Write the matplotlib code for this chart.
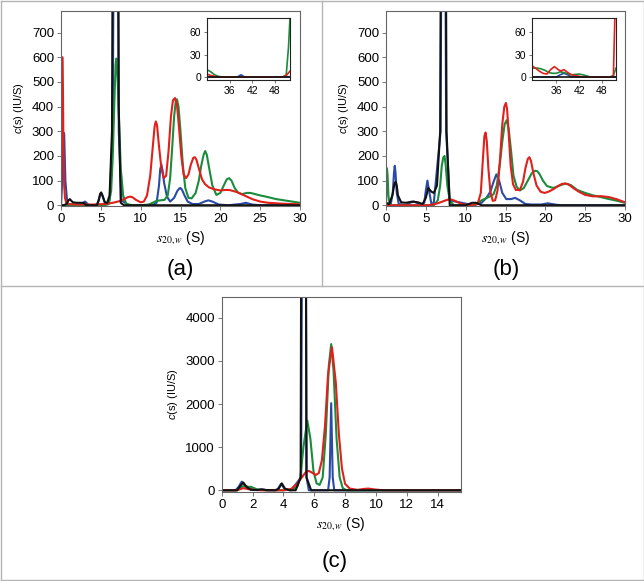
import matplotlib
matplotlib.use("Agg")
import matplotlib.pyplot as plt
from matplotlib.lines import Line2D

plt.rcParams['font.family'] = ['Liberation Sans', 'DejaVu Sans']
plt.rcParams['mathtext.fontset'] = 'custom'
plt.rcParams['mathtext.it'] = 'Liberation Sans:italic'
plt.rcParams['mathtext.rm'] = 'Liberation Sans'

RED, GREEN, BLUE, BLACK = '#e0201b', '#1a8c3c', '#2b4aa6', '#111111'

# ---- panel (a) ----
a_red_x = [0, 0.05, 0.1, 0.2, 0.25, 0.3, 0.4, 0.5, 0.7, 2, 4, 5.5, 6.5, 7.5, 8.0, 8.4, 8.7, 9.0, 9.4,
           10, 10.4, 10.8, 11.2, 11.5, 11.75, 11.9, 12.05, 12.3, 12.6, 12.9, 13.2, 13.5, 13.8, 14.05,
           14.3, 14.55, 14.8, 15.1, 15.4, 15.7, 16.0, 16.3, 16.6, 16.8, 17.0, 17.3, 17.7, 18.1, 18.6,
           19.2, 20, 20.6, 21.1, 21.6, 22.2, 23, 24, 25, 26, 27, 28, 29, 30]
a_red_y = [0, 300, 600, 600, 450, 250, 80, 30, 5, 3, 3, 5, 10, 18, 26, 33, 35, 32, 22,
           12, 15, 40, 120, 230, 320, 340, 325, 240, 150, 110, 120, 220, 360, 425,
           435, 410, 320, 200, 125, 110, 125, 165, 192, 195, 185, 150, 105, 85, 72,
           65, 60, 62, 62, 58, 52, 40, 25, 15, 10, 8, 6, 5, 4]
a_green_x = [0, 5.5, 6.0, 6.3, 6.5, 6.7, 6.85, 6.95, 7.1, 7.3, 7.5, 7.8, 8.2, 9, 10, 11, 11.5, 12, 12.5, 13,
             13.4, 13.7, 13.95, 14.2, 14.4, 14.55, 14.75, 15.0, 15.3, 15.6, 16.0, 16.4, 16.9, 17.3, 17.6,
             17.9, 18.1, 18.3, 18.6, 19.0, 19.5, 20.0, 20.5, 20.8, 21.1, 21.4, 21.8, 22.2, 22.7, 23.3,
             23.8, 25, 26, 27, 28, 29, 30]
a_green_y = [0, 0, 5, 60, 200, 420, 570, 595, 520, 330, 150, 40, 5, 0, 0, 3, 10, 18, 20, 22,
             40, 110, 230, 360, 420, 430, 400, 300, 160, 70, 30, 28, 50, 100, 160,
             205, 220, 205, 150, 80, 42, 50, 85, 105, 110, 100, 70, 52, 45, 50,
             50, 40, 33, 25, 20, 15, 10]
a_blue_x = [0, 0.15, 0.3, 0.4, 0.55, 0.8, 2.5, 2.8, 3.0, 3.2, 3.5, 4.5, 4.8, 5.0, 5.2, 5.5, 5.8, 6.1, 6.5,
            6.85, 7.0, 7.25, 7.6, 8.5, 11.5, 12.0, 12.3, 12.45, 12.6, 12.75, 12.95, 13.3, 13.7, 14.2,
            14.6, 14.85, 15.0, 15.2, 15.5, 15.9, 16.5, 17.3, 18.0, 18.5, 19.0, 19.8, 21, 22.5, 23.2,
            24, 25, 30]
a_blue_y = [0, 100, 295, 290, 100, 5, 0, 10, 15, 10, 0, 0, 30, 50, 40, 10, 5, 20, 300,
            3000, 3000, 300, 20, 0, 0, 10, 80, 145, 165, 140, 90, 35, 15, 30,
            58, 68, 70, 62, 40, 15, 5, 5, 15, 20, 15, 3, 0, 5, 10,
            3, 0, 0]
a_black_x = [0, 0.3, 0.7, 0.95, 1.1, 1.3, 1.5, 2.0, 2.8, 3.2, 4.5, 4.75, 4.9, 5.05, 5.2, 5.5, 5.8, 6.1,
             6.4, 6.8, 7.25, 7.5, 7.9, 30]
a_black_y = [0, 0, 5, 20, 25, 18, 12, 10, 10, 0, 0, 20, 45, 52, 40, 12, 10, 40,
             300, 4000, 400, 10, 0, 0]

ai_red_x = [30, 31, 33, 50, 51, 52]
ai_red_y = [4, 2, 0, 0, 2, 8]
ai_green_x = [30, 31, 32, 33, 34, 50, 51, 51.6, 52]
ai_green_y = [10, 7, 3, 1, 0, 0, 3, 40, 80]
ai_blue_x = [30, 38, 39, 40, 52]
ai_blue_y = [0, 0, 3, 0, 0]
ai_black_x = [30, 52]
ai_black_y = [0, 0]

# ---- panel (b) ----
b_red_x = [0, 5.5, 6.5, 7.5, 8.0, 8.5, 9.5, 10.5, 11.5, 11.9, 12.15, 12.35, 12.5, 12.65, 12.85,
           13.1, 13.4, 13.7, 14.0, 14.3, 14.6, 14.85, 15.05, 15.2, 15.4, 15.65, 15.95, 16.3, 16.8, 17.2,
           17.5, 17.8, 18.0, 18.2, 18.5, 18.9, 19.4, 19.9, 20.4, 21, 21.6, 22.1, 22.5, 22.9, 23.5,
           24.2, 25, 26, 27, 28, 29, 30]
b_red_y = [0, 0, 8, 20, 25, 20, 5, 0, 5, 50, 180, 280, 295, 260, 150,
           55, 18, 20, 60, 180, 330, 400, 415, 390, 290, 160, 85, 62, 62, 95,
           150, 188, 195, 180, 130, 80, 55, 50, 55, 65, 78, 87, 88, 85, 70,
           55, 42, 36, 37, 33, 24, 12]
b_green_x = [0, 0.05, 0.12, 0.2, 0.3, 0.45, 0.6, 6.0, 6.5, 6.8, 7.0, 7.2, 7.35, 7.5, 7.7, 8.0, 8.5, 11, 12,
             13, 13.5, 13.9, 14.3, 14.6, 14.9, 15.15, 15.4, 15.7, 16.0, 16.4, 16.8, 17.3, 17.8, 18.3, 18.7,
             19.0, 19.3, 19.7, 20.2, 21, 21.8, 22.5, 23.2, 24, 25, 26, 27, 28, 29, 30]
b_green_y = [0, 80, 150, 120, 40, 5, 0, 0, 20, 80, 160, 195, 200, 160, 80, 20, 0, 0, 20,
             35, 45, 80, 170, 260, 330, 345, 310, 220, 120, 75, 60, 70, 100, 130, 140,
             138, 125, 100, 78, 70, 80, 88, 82, 62, 50, 40, 33, 25, 18, 10]
b_blue_x = [0, 0.6, 0.85, 1.0, 1.1, 1.2, 1.35, 1.6, 2.5, 3.0, 3.5, 4.0, 4.3, 4.8, 5.0, 5.2, 5.4, 5.7, 6.0,
            6.85, 7.2, 7.55, 8.0, 11, 12, 12.6, 13.1, 13.5, 13.85, 14.2, 14.6, 15.1, 15.7, 16.2, 16.8, 17.5,
            18.3, 19.5, 20.3, 21.2, 22, 30]
b_blue_y = [0, 5, 50, 130, 160, 130, 50, 5, 0, 10, 15, 8, 0, 10, 60, 100, 60, 5, 10,
            300, 3000, 300, 20, 0, 10, 30, 55, 95, 125, 100, 50, 25, 25, 30, 20, 5,
            3, 3, 8, 3, 0, 0]
b_black_x = [0, 0.4, 0.8, 1.05, 1.2, 1.35, 1.5, 1.9, 2.5, 3.3, 4.0, 4.6, 5.0, 5.3, 5.7, 6.0, 6.4, 6.8,
             7.2, 7.6, 8.0, 10, 10.8, 11.3, 12, 30]
b_black_y = [10, 5, 40, 85, 95, 80, 40, 12, 10, 15, 12, 5, 30, 70, 55, 50, 80, 300,
             4000, 300, 0, 0, 10, 10, 0, 0]

bi_red_x = [29.6, 30.5, 31.5, 32.5, 33.5, 34.5, 35.5, 36.5, 37.2, 38, 39, 40, 41, 43, 50, 51, 51.4, 51.7]
bi_red_y = [15, 12, 8, 5, 4, 10, 14, 10, 8, 10, 6, 3, 2, 0, 0, 0, 80, 85]
bi_green_x = [29.6, 31, 32, 33, 34, 35, 36, 37, 38, 40, 42, 43, 45, 50, 51, 51.7]
bi_green_y = [12, 12, 11, 9, 6, 5, 5, 7, 6, 3, 4, 3, 0, 0, 2, 12]
bi_blue_x = [29.6, 36, 37, 38, 39, 40, 51.7]
bi_blue_y = [0, 0, 3, 5, 3, 0, 0]
bi_black_x = [29.6, 51.7]
bi_black_y = [0, 0]

# ---- panel (c) ----
c_red_x = [0, 1.0, 1.4, 1.8, 2.5, 4.0, 4.5, 4.9, 5.2, 5.45, 5.65, 5.85, 6.1, 6.3, 6.5, 6.7, 6.9, 7.15, 7.4,
           7.6, 7.8, 8.0, 8.3, 8.8, 9.2, 9.5, 9.9, 10.5, 15.5]
c_red_y = [0, 0, 50, 20, 0, 0, 30, 150, 300, 420, 450, 410, 355, 400, 700, 1500, 2700, 3320, 2500,
           1300, 500, 150, 40, 10, 30, 40, 20, 0, 0]
c_green_x = [0, 1.0, 1.4, 1.6, 1.9, 2.3, 2.8, 4.0, 4.6, 4.9, 5.1, 5.3, 5.55, 5.75, 5.95, 6.15, 6.35, 6.55,
             6.75, 6.95, 7.1, 7.25, 7.45, 7.65, 7.85, 8.1, 15.5]
c_green_y = [0, 0, 100, 80, 80, 20, 0, 0, 20, 80, 300, 1000, 1620, 1200, 450, 160, 124, 300,
             1300, 2900, 3390, 2800, 1200, 300, 50, 0, 0]
c_blue_x = [0, 0.9, 1.1, 1.3, 1.5, 1.8, 2.1, 2.6, 3.0, 3.6, 3.85, 4.1, 4.5, 5.15, 5.35, 5.5, 5.65, 6.9, 7.0,
            7.1, 7.2, 7.3, 15.5]
c_blue_y = [0, 0, 80, 200, 120, 50, 5, 20, 0, 10, 150, 20, 0, 300, 20000, 300, 0, 0, 300,
            2020, 300, 0, 0]
c_black_x = [0, 1.0, 1.2, 1.4, 1.6, 1.9, 2.3, 2.6, 2.9, 3.5, 3.7, 3.9, 4.1, 4.4, 4.8, 5.12, 5.3, 5.5, 5.8, 15.5]
c_black_y = [0, 0, 100, 180, 80, 10, 5, 20, 5, 0, 40, 160, 40, 0, 0, 300, 30000, 300, 0, 0]

W, H = 644, 581
fig = plt.figure(figsize=(W / 100, H / 100), dpi=100)


def box(l, t, r, b):
    # pixel box -> figure fraction rect
    return [l / W, 1 - b / H, (r - l) / W, (b - t) / H]


def style(ax, size=9.5, spine='#666666'):
    for s in ax.spines.values():
        s.set_color(spine)
        s.set_linewidth(0.8)
    ax.tick_params(direction='out', length=3, width=0.7, color='#777777', labelsize=size, pad=2)


def draw(ax, data, lw=1.5):
    for (x, y), col in zip(data, [BLUE, GREEN, RED, BLACK]):
        ax.plot(x, y, color=col, lw=lw)


def main(ax, data, xlim, ylim, xt, yt):
    draw(ax, data)
    ax.set_xlim(*xlim)
    ax.set_ylim(*ylim)
    ax.set_xticks(xt)
    ax.set_yticks(yt)
    style(ax)
    ax.set_ylabel(r'$c$(s) (IU/S)', fontsize=8, labelpad=4)
    ax.set_xlabel(r'$s_{\mathit{20,w}}$ (S)', fontsize=10, math_fontfamily='stix', labelpad=3)


def inset(ax, data, xlim):
    draw(ax, data, lw=1.2)
    ax.set_xlim(*xlim)
    ax.set_ylim(-4, 80)
    ax.set_xticks([36, 42, 48])
    ax.set_yticks([0, 30, 60])
    style(ax, size=7.5, spine='#222222')
    ax.tick_params(length=2)


axa = fig.add_axes(box(61, 10.5, 300, 206))
main(axa, [(a_blue_x, a_blue_y), (a_green_x, a_green_y), (a_red_x, a_red_y), (a_black_x, a_black_y)],
     (0, 30), (-3, 790), range(0, 31, 5), range(0, 701, 100))
axai = fig.add_axes(box(207, 17.5, 290, 80))
inset(axai, [(ai_blue_x, ai_blue_y), (ai_green_x, ai_green_y), (ai_red_x, ai_red_y), (ai_black_x, ai_black_y)],
      (30, 52))

axb = fig.add_axes(box(386, 10.5, 625, 206))
main(axb, [(b_blue_x, b_blue_y), (b_green_x, b_green_y), (b_red_x, b_red_y), (b_black_x, b_black_y)],
     (0, 30), (-3, 790), range(0, 31, 5), range(0, 701, 100))
axbi = fig.add_axes(box(532, 17.5, 616, 80))
inset(axbi, [(bi_blue_x, bi_blue_y), (bi_green_x, bi_green_y), (bi_red_x, bi_red_y), (bi_black_x, bi_black_y)],
      (29.6, 51.7))

axc = fig.add_axes(box(221.7, 296.7, 460.7, 492))
main(axc, [(c_blue_x, c_blue_y), (c_green_x, c_green_y), (c_red_x, c_red_y), (c_black_x, c_black_y)],
     (0, 15.5), (-40, 4490), range(0, 15, 2), range(0, 4001, 1000))

fig.text(180 / W, 1 - 269 / H, '(a)', ha='center', va='center', fontsize=16)
fig.text(506 / W, 1 - 269 / H, '(b)', ha='center', va='center', fontsize=16)
fig.text(335 / W, 1 - 562 / H, '(c)', ha='center', va='center', fontsize=16)

# panel frames
gray = '#b4b4b4'
for xs, ys in [([0.5, 643.5], [0.5, 0.5]), ([0.5, 643.5], [579.5, 579.5]), ([0.5, 0.5], [0.5, 579.5]),
               ([643.5, 643.5], [0.5, 579.5]), ([0.5, 643.5], [286, 286]), ([322, 322], [0.5, 286])]:
    fig.add_artist(Line2D([x / W for x in xs], [1 - y / H for y in ys], color=gray, lw=1))

fig.savefig('out.png', dpi=100)
